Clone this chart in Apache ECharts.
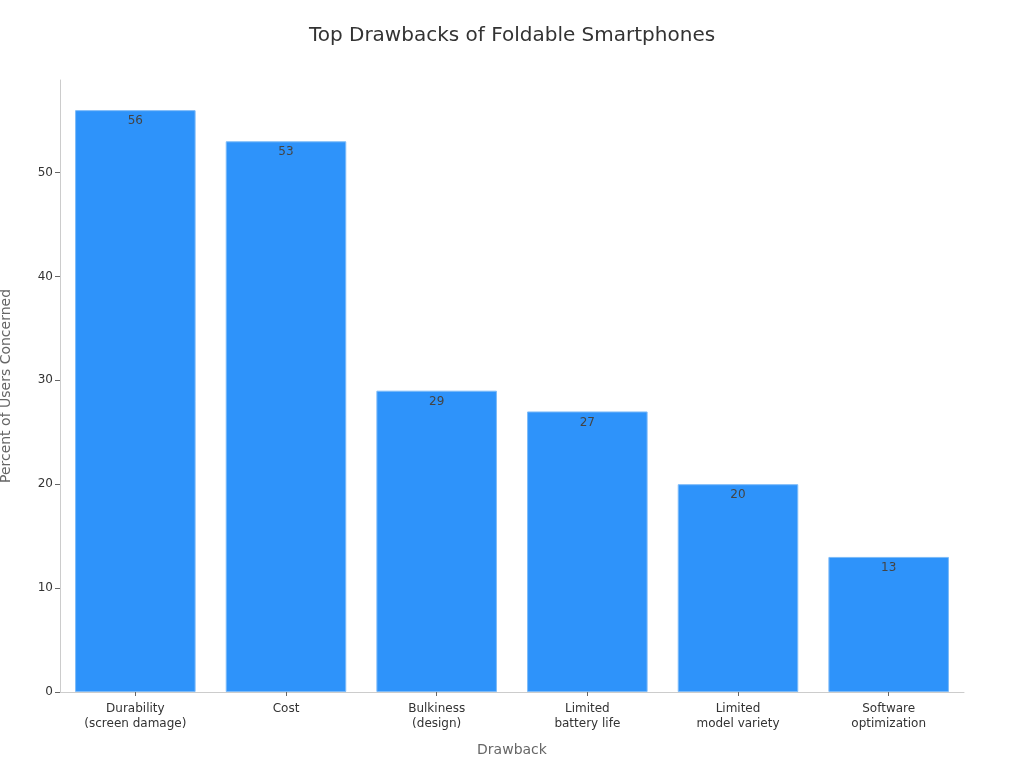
<!DOCTYPE html>
<html>
<head>
<meta charset="utf-8">
<style>html,body{margin:0;padding:0;background:#fff}#chart{width:1024px;height:768px}</style>
<script src="https://cdn.jsdelivr.net/npm/echarts@6/dist/echarts.min.js"></script>
</head>
<body>
<div id="chart"></div>
<script>
var categories = ['Durability\n(screen damage)', 'Cost', 'Bulkiness\n(design)', 'Limited\nbattery life', 'Limited\nmodel variety', 'Software\noptimization'];
var percentValues = [56, 53, 29, 27, 20, 13];
var yTicks = [0, 10, 20, 30, 40, 50];

var myChart = echarts.init(document.getElementById('chart'));
var font = 'DejaVu Sans';
var option = {
    animation: false,
    title: {
        text: 'Top Drawbacks of Foldable Smartphones',
        left: 'center',
        top: 21,
        textStyle: {fontFamily: font, fontSize: 20, fontWeight: 'normal', color: '#333'}
    },
    grid: {left: 60, right: 60, top: 80, bottom: 76, outerBoundsMode: 'none'},
    xAxis: {
        type: 'category',
        data: categories,
        name: 'Drawback',
        nameLocation: 'middle',
        nameGap: 51,
        nameTextStyle: {fontFamily: font, fontSize: 14, color: '#666'},
        axisLine: {lineStyle: {color: '#ccc'}},
        axisTick: {show: true, alignWithLabel: true, length: 4, lineStyle: {color: '#666'}},
        axisLabel: {fontFamily: font, fontSize: 12, color: '#333', margin: 9, lineHeight: 15, interval: 0}
    },
    yAxis: {
        type: 'value',
        min: 0,
        max: 58.9,
        interval: 10,
        name: 'Percent of Users Concerned',
        nameLocation: 'middle',
        nameGap: 47,
        nameTextStyle: {fontFamily: font, fontSize: 14, color: '#666'},
        splitLine: {show: false},
        axisLine: {show: true, lineStyle: {color: '#ccc'}},
        axisTick: {show: true, length: 5, lineStyle: {color: '#666'}},
        axisLabel: {
            fontFamily: font, fontSize: 12, color: '#333', margin: 7,
            showMaxLabel: false,
            formatter: function (v) { return yTicks.indexOf(v) >= 0 ? String(v) : ''; }
        }
    },
    series: [{
        type: 'bar',
        data: percentValues,
        barWidth: '80%',
        itemStyle: {color: '#2E93FA', borderColor: '#7DBBF8', borderWidth: 1},
        label: {show: true, position: 'insideTop', distance: 5, fontFamily: font, fontSize: 12, color: '#444', textBorderWidth: 0}
    }]
};
myChart.setOption(option);
</script>
</body>
</html>
